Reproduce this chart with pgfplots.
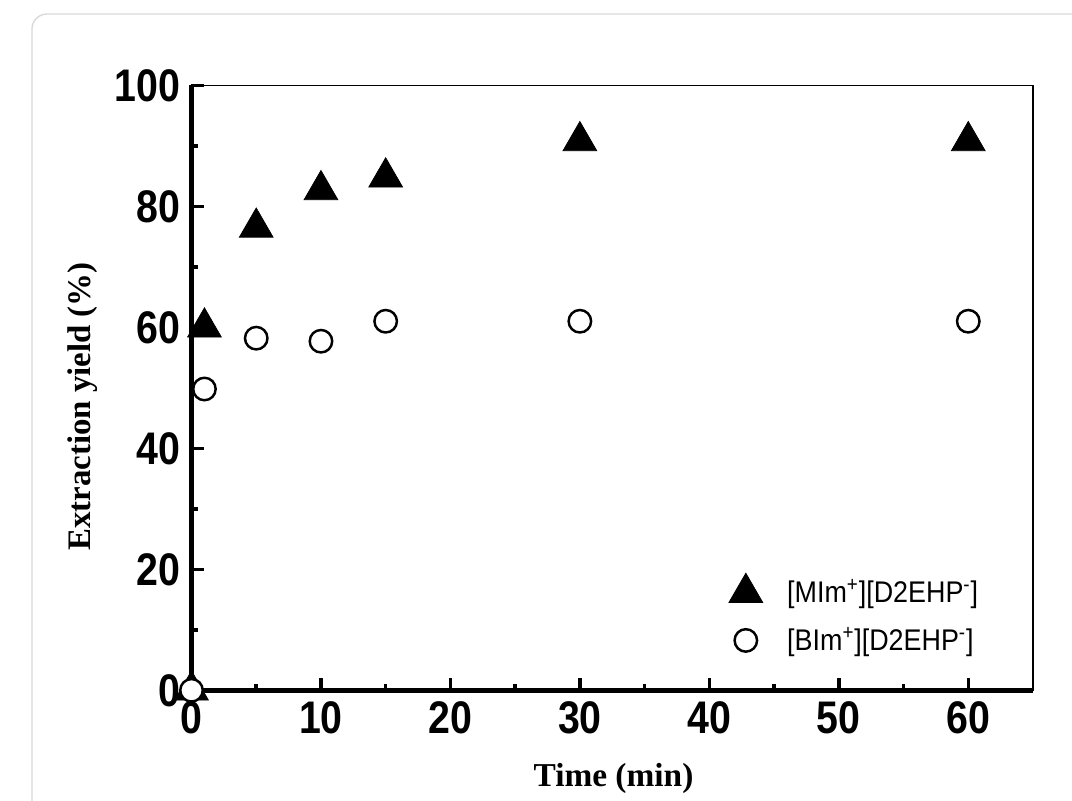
\documentclass[border=0pt]{standalone}
\usepackage{pgfplots}
\pgfplotsset{compat=1.18}
\usepackage{fontspec}
\setmainfont{Liberation Sans}
\newfontfamily\timesfont{Liberation Serif}
\newfontfamily\ticksfont[FakeStretch=0.86]{Liberation Sans}
\newfontfamily\legfont[FakeStretch=0.9]{Liberation Sans}

\pgfplotsset{
  frame/.style={
    at={(3.83cm,2.214cm)}, anchor=south west,
    scale only axis,
    width=16.83cm, height=12.1cm,
    xmin=0, xmax=65, ymin=0, ymax=100,
  }
}

\begin{document}
\begin{tikzpicture}[x=1cm,y=1cm]
% picture frame: 1072 x 801 px at 0.02 cm per px
\useasboundingbox (0,0) rectangle (21.44,16.02);
\begin{scope}
  \clip (0,0) rectangle (21.44,16.02);
  \draw[black!15, line width=0.8pt, rounded corners=0.3cm] (0.64,-1) rectangle (23,15.74);
\end{scope}

% thin box
\begin{axis}[frame, axis lines=box, ticks=none, axis line style={line width=0.8pt}]
\end{axis}

% thick left and bottom spines, ticks and data
\begin{axis}[
    frame,
    axis x line*=bottom, axis y line*=left,
    axis line style={line width=2.6pt, -},
    xtick={0,10,...,60}, ytick={0,20,...,100},
    minor x tick num=1, minor y tick num=1,
    tick align=inside,
    major tick length=0.25cm, minor tick length=0.13cm,
    every tick/.style={black, line width=2pt},
    clip=false,
    /pgf/number format/assume math mode=true,
    tick label style={font=\ticksfont\fontsize{26}{26}\selectfont\bfseries},
    yticklabel style={xshift=-0.1cm},
    xticklabel style={yshift=-0.1cm},
    xlabel={Time (min)},
    ylabel={Extraction yield (\%)},
    every axis x label/.style={at={(axis description cs:0.5015,-0.145)}, anchor=center,
        font=\timesfont\fontsize{19}{19}\selectfont\bfseries},
    every axis y label/.style={at={(axis description cs:-0.129,0.469)}, anchor=center, rotate=90,
        font=\timesfont\fontsize{18.7}{18.7}\selectfont\bfseries},
    legend style={draw=none, fill=none, at={(axis description cs:0.632,0.2)}, anchor=north west,
        font=\legfont\fontsize{17}{17}\selectfont, row sep=0.3cm,
        /tikz/every odd column/.append style={column sep=0.42cm}},
    legend cell align=left,
]
\addplot[only marks, mark=triangle*, mark size=11.1pt, mark options={fill=black, draw=black}]
coordinates {
    (0,0) (1,60) (5,76.5) (10,82.7) (15,84.8) (30,90.8) (60,90.8)
};
\addlegendentry{[MIm\textsuperscript{+}][D2EHP\textsuperscript{-}]}

\addplot[only marks, mark=*, mark size=6.4pt, mark options={fill=white, draw=black, line width=1.4pt}]
coordinates {
    (0,0) (1,49.8) (5,58.2) (10,57.7) (15,61) (30,61) (60,61)
};
\addlegendentry{[BIm\textsuperscript{+}][D2EHP\textsuperscript{-}]}

\end{axis}
\end{tikzpicture}
\end{document}
